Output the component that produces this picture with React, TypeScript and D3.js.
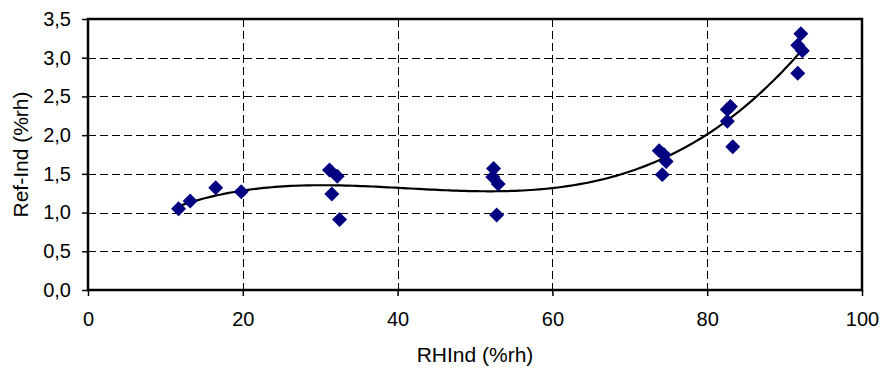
import * as d3 from "d3";
import { useEffect, useRef } from "react";

// RHInd (%rh) readings
const rhInd = [
  11.7, 13.2, 16.5, 19.8,
  31.2, 32.2, 31.5, 32.5,
  52.4, 52.3, 53.0, 52.8,
  73.8, 74.4, 74.7, 74.2,
  82.6, 83.0, 82.6, 83.3,
  92.1, 91.7, 92.3, 91.7,
];
// Ref-Ind (%rh) differences
const refMinusInd = [
  1.05, 1.15, 1.32, 1.27,
  1.55, 1.47, 1.24, 0.91,
  1.57, 1.46, 1.37, 0.97,
  1.80, 1.75, 1.66, 1.49,
  2.33, 2.37, 2.18, 1.85,
  3.31, 3.16, 3.09, 2.80,
];
const xTicks = [0, 20, 40, 60, 80, 100];
const yTicks = [0, 0.5, 1.0, 1.5, 2.0, 2.5, 3.0, 3.5];

const W = 883;
const H = 372;
const margin = { top: 19, right: 21, bottom: 82, left: 88 };

// least squares polynomial (Excel "polynomial, order 3" trend line)
function polyFit(xs: number[], ys: number[], order: number) {
  const n = order + 1;
  const A: number[][] = [];
  for (let r = 0; r < n; r++) {
    const row: number[] = [];
    for (let c = 0; c < n; c++) row.push(d3.sum(xs, (x) => Math.pow(x, r + c)));
    row.push(d3.sum(xs, (x, i) => Math.pow(x, r) * ys[i]));
    A.push(row);
  }
  for (let i = 0; i < n; i++) {
    let p = i;
    for (let k = i + 1; k < n; k++) if (Math.abs(A[k][i]) > Math.abs(A[p][i])) p = k;
    [A[i], A[p]] = [A[p], A[i]];
    for (let k = i + 1; k < n; k++) {
      const f = A[k][i] / A[i][i];
      for (let c = i; c <= n; c++) A[k][c] -= f * A[i][c];
    }
  }
  const coef = new Array(n).fill(0);
  for (let i = n - 1; i >= 0; i--) {
    let s = A[i][n];
    for (let c = i + 1; c < n; c++) s -= A[i][c] * coef[c];
    coef[i] = s / A[i][i];
  }
  return (x: number) => coef.reduce((acc, c, i) => acc + c * Math.pow(x, i), 0);
}

const ScatterChart = () => {
  const svgRef = useRef<SVGSVGElement>(null);

  useEffect(() => {
    const svg = d3.select(svgRef.current);
    svg.selectAll("*").remove();
    svg.attr("width", W).attr("height", H);

    const x = d3.scaleLinear().domain([0, 100]).range([margin.left, W - margin.right]);
    const y = d3.scaleLinear().domain([0, 3.5]).range([H - margin.bottom, margin.top]);
    const font = "'Liberation Sans', Arial, sans-serif";

    // grid
    const grid = svg.append("g").attr("stroke", "#000").attr("stroke-width", 1).attr("stroke-dasharray", "8,4");
    grid.selectAll("line.h")
      .data(yTicks.filter((t) => t > 0 && t < 3.5))
      .join("line")
      .attr("x1", x(0)).attr("x2", x(100))
      .attr("y1", (d) => Math.round(y(d)) + 0.5).attr("y2", (d) => Math.round(y(d)) + 0.5);
    grid.selectAll("line.v")
      .data(xTicks.filter((t) => t > 0 && t < 100))
      .join("line")
      .attr("y1", y(3.5)).attr("y2", y(0))
      .attr("x1", (d) => Math.round(x(d)) + 0.5).attr("x2", (d) => Math.round(x(d)) + 0.5);

    // axes
    const xAxis = svg.append("g")
      .attr("transform", `translate(0,${y(0)})`)
      .call(d3.axisBottom(x).tickValues(xTicks).tickSize(6).tickPadding(16).tickFormat(d3.format("d")));
    const yAxis = svg.append("g")
      .attr("transform", `translate(${x(0)},0)`)
      .call(d3.axisLeft(y).tickValues(yTicks).tickSize(6).tickPadding(11)
        .tickFormat((d) => d3.format(".1f")(d as number).replace(".", ",")));
    [xAxis, yAxis].forEach((a) => {
      a.select(".domain").remove();
      a.selectAll("line").attr("stroke", "#000").attr("stroke-width", 1.5);
      a.selectAll("text").attr("font-family", font).attr("font-size", 20).attr("fill", "#000");
    });

    // frame
    svg.append("rect")
      .attr("x", x(0)).attr("y", y(3.5))
      .attr("width", x(100) - x(0)).attr("height", y(0) - y(3.5))
      .attr("fill", "none").attr("stroke", "#000").attr("stroke-width", 2.5);

    // trend line
    const fit = polyFit(rhInd, refMinusInd, 3);
    const [xMin, xMax] = d3.extent(rhInd) as [number, number];
    const xs = d3.range(xMin, xMax, 0.5).concat([xMax]);
    svg.append("path")
      .datum(xs)
      .attr("fill", "none")
      .attr("stroke", "#000")
      .attr("stroke-width", 2.2)
      .attr("d", d3.line<number>().x((d) => x(d)).y((d) => y(fit(d))));

    // markers
    const diamond = d3.symbol().type(d3.symbolSquare).size(112);
    svg.append("g")
      .selectAll("path")
      .data(rhInd.map((v, i) => [v, refMinusInd[i]]))
      .join("path")
      .attr("d", diamond)
      .attr("fill", "#000080")
      .attr("transform", (d) => `translate(${x(d[0])},${y(d[1])}) rotate(45)`);

    // titles
    svg.append("text")
      .attr("x", (x(0) + x(100)) / 2)
      .attr("y", 362)
      .attr("text-anchor", "middle")
      .attr("font-family", font)
      .attr("font-size", 21)
      .text("RHInd (%rh)");
    svg.append("text")
      .attr("transform", `translate(28,${(y(0) + y(3.5)) / 2}) rotate(-90)`)
      .attr("text-anchor", "middle")
      .attr("font-family", font)
      .attr("font-size", 21)
      .text("Ref-Ind (%rh)");
  }, []);

  return <svg ref={svgRef} style={{ position: "absolute", left: 0, top: 0, background: "#fff" }}></svg>;
};

export default function App() {
  return <ScatterChart />;
}
